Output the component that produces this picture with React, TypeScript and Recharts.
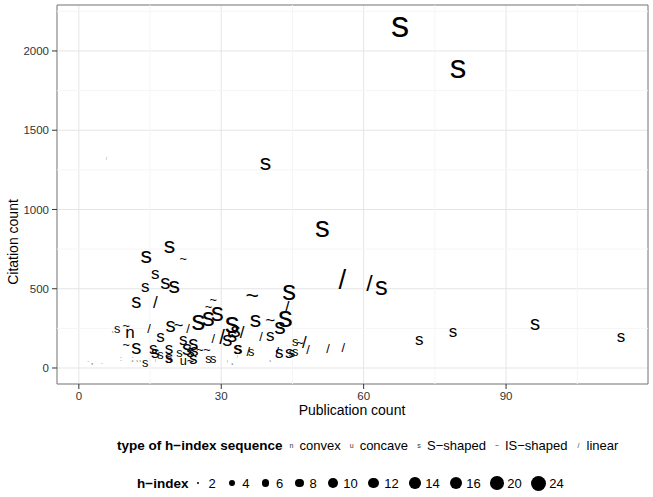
import React from "react";
import {
  ScatterChart,
  Scatter,
  XAxis,
  YAxis,
  CartesianGrid,
  ReferenceLine,
  ReferenceArea,
} from "recharts";

// Publication count, citation count, sequence type, h-index for each author
const pubCount = [
  67.7, 79.9, 5.8, 39.3, 51.3, 14.2, 19.1, 22.0, 16.1, 14.0, 18.2, 20.1, 12.1, 16.1, 28.3, 36.5, 44.3, 55.5, 61.2, 63.7,
  25.2, 27.3, 29.2, 27.3, 32.3, 33.0, 37.2, 40.3, 43.5, 42.4, 43.9, 7.1, 8.1, 10.0, 10.8, 14.8, 19.3, 21.0, 23.0, 17.2,
  22.0, 24.1, 28.3, 30.2, 31.3, 32.3, 34.4, 10.0, 12.1, 15.7, 16.1, 17.2, 19.0, 19.0, 19.0, 21.2, 22.8, 23.5, 24.3, 25.5,
  27.0, 22.0, 23.5, 24.1, 27.3, 28.3, 16.1, 8.9, 8.9, 11.3, 11.3, 12.3, 12.9, 14.0, 2.0, 2.8, 4.9, 31.3, 32.3, 33.4,
  35.7, 38.4, 40.3, 45.6, 46.6, 47.5, 48.3, 52.5, 55.7, 33.6, 36.3, 33.4, 41.8, 42.2, 44.3, 44.9, 45.6, 40.3, 71.7, 78.8,
  96.1, 114.2,
];
const citeCount = [
  2170, 1899, 1318, 1300, 890, 713, 776, 688, 593, 511, 543, 524, 423, 413, 429, 461, 492, 561, 536, 517,
  297, 322, 353, 385, 290, 240, 309, 297, 322, 265, 379, 227, 246, 271, 227, 252, 271, 271, 252, 196,
  177, 158, 183, 196, 183, 208, 221, 151, 132, 120, 95, 88, 126, 69, 63, 95, 126, 107, 110, 114,
  114, 50, 50, 63, 63, 63, 44, 63, 38, 63, 38, 38, 38, 32, 32, 19, 19, 32, 19, 126,
  101, 196, 208, 164, 158, 158, 114, 126, 132, 120, 101, 69, 101, 95, 95, 95, 107, 44, 177, 233,
  284, 196,
];
const seqType = [
  "s", "s", "/", "s", "s", "s", "s", "~", "s", "s", "s", "s", "s", "/", "~", "~", "s", "/", "/", "s",
  "s", "s", "s", "~", "s", "s", "s", "~", "s", "s", "/", "s", "s", "~", "n", "/", "s", "~", "/", "s",
  "s", "s", "/", "/", "s", "s", "/", "~", "s", "s", "s", "s", "s", "s", "s", "s", "s", "s", "s", "~",
  "~", "u", "~", "s", "s", "s", "/", "~", "~", "~", "u", "s", "s", "s", "~", "n", "~", "/", "u", "s",
  "/", "/", "s", "s", "~", "/", "/", "/", "/", "s", "s", "/", "/", "s", "s", "s", "s", "s", "s", "s",
  "s", "s",
];
const hIndex = [
  24, 20, 2, 10, 16, 10, 10, 4, 6, 6, 8, 10, 8, 6, 4, 10, 14, 14, 10, 12,
  14, 12, 12, 4, 16, 8, 10, 6, 16, 10, 6, 2, 4, 4, 6, 4, 8, 6, 4, 6,
  6, 8, 4, 8, 8, 8, 6, 4, 8, 6, 6, 4, 6, 6, 4, 4, 8, 6, 6, 4,
  4, 4, 4, 6, 4, 4, 2, 2, 2, 2, 2, 2, 2, 4, 2, 2, 2, 2, 2, 6,
  4, 4, 6, 4, 4, 6, 4, 4, 4, 6, 4, 2, 4, 6, 6, 4, 4, 2, 6, 6,
  8, 6,
];

const xTicks = [0, 30, 60, 90];
const yTicks = [0, 500, 1000, 1500, 2000];
const xMinor = [15, 45, 75, 105];
const yMinor = [250, 750, 1250, 1750, 2250];

const typeLegend = [
  { glyph: "n", label: "convex" },
  { glyph: "u", label: "concave" },
  { glyph: "s", label: "S\u2212shaped" },
  { glyph: "~", label: "IS\u2212shaped" },
  { glyph: "/", label: "linear" },
];
const hLegend = [2, 4, 6, 8, 10, 12, 14, 16, 20, 24];

const data = pubCount.map((x, i) => ({
  x,
  y: citeCount[i],
  t: seqType[i],
  h: hIndex[i],
}));

const FONT = '"Liberation Sans", Arial, Helvetica, sans-serif';

const diam = (h: number) => 1 + 13 * Math.sqrt(Math.max(0, h - 2) / 22);
const glyphSize = (h: number) => 2.6 * diam(h);

const GlyphShape = (props: any) => {
  const { cx, cy, payload } = props;
  if (cx == null || cy == null) return null;
  return (
    <text
      x={cx}
      y={cy}
      fontSize={glyphSize(payload.h)}
      fontFamily={FONT}
      textAnchor="middle"
      dominantBaseline="central"
      fill="#000"
    >
      {payload.t}
    </text>
  );
};

export default function App() {
  return (
    <div
      style={{
        position: "absolute",
        left: 0,
        top: 0,
        width: 653,
        height: 497,
        background: "#fff",
        fontFamily: FONT,
      }}
    >
      <ScatterChart
        width={653}
        height={497}
        margin={{ top: 5, right: 5, bottom: 83, left: 7 }}
      >
        <CartesianGrid stroke="#E5E5E5" strokeWidth={1} />
        {xMinor.map((v) => (
          <ReferenceLine key={"xm" + v} x={v} stroke="#F5F5F5" strokeWidth={1} />
        ))}
        {yMinor.map((v) => (
          <ReferenceLine key={"ym" + v} y={v} stroke="#F5F5F5" strokeWidth={1} />
        ))}
        <XAxis
          type="number"
          dataKey="x"
          domain={[-4.6, 119.9]}
          ticks={xTicks}
          allowDataOverflow
          axisLine={false}
          tickLine={{ stroke: "#333333" }}
          tickSize={5}
          tickMargin={3}
          height={30}
          tick={{ fill: "#333333", fontSize: 11.5, fontFamily: FONT }}
        />
        <YAxis
          type="number"
          dataKey="y"
          domain={[-101, 2290]}
          ticks={yTicks}
          allowDataOverflow
          axisLine={false}
          tickLine={{ stroke: "#333333" }}
          tickSize={5}
          tickMargin={3}
          width={50}
          tick={{ fill: "#333333", fontSize: 11.5, fontFamily: FONT }}
        />
        <ReferenceArea
          x1={-4.6}
          x2={119.9}
          y1={-101}
          y2={2290}
          fill="none"
          fillOpacity={0}
          stroke="#7F7F7F"
          strokeWidth={1}
        />
        <Scatter data={data} shape={GlyphShape} isAnimationActive={false} />
      </ScatterChart>

      <div
        style={{
          position: "absolute",
          left: 352,
          top: 402,
          transform: "translateX(-50%)",
          fontSize: 14,
          whiteSpace: "nowrap",
          color: "#000",
        }}
      >
        Publication count
      </div>
      <div
        style={{
          position: "absolute",
          left: 13,
          top: 242,
          transform: "translate(-50%, -50%) rotate(-90deg)",
          fontSize: 14,
          whiteSpace: "nowrap",
          color: "#000",
        }}
      >
        Citation count
      </div>

      <div
        style={{
          position: "absolute",
          left: 117,
          top: 437,
          display: "flex",
          alignItems: "center",
          whiteSpace: "nowrap",
          height: 16,
        }}
      >
        <span style={{ fontWeight: "bold", fontSize: 13.5, marginRight: 4 }}>
          type of h{"\u2212"}index sequence
        </span>
        {typeLegend.map((it) => (
          <span key={it.label} style={{ display: "flex", alignItems: "center" }}>
            <span
              style={{
                display: "inline-block",
                width: 10,
                textAlign: "center",
                fontSize: 7,
                color: "#333",
              }}
            >
              {it.glyph}
            </span>
            <span style={{ fontSize: 13, marginLeft: 3, marginRight: 6 }}>{it.label}</span>
          </span>
        ))}
      </div>

      <div
        style={{
          position: "absolute",
          left: 137,
          top: 475,
          display: "flex",
          alignItems: "center",
          whiteSpace: "nowrap",
          height: 16,
        }}
      >
        <span style={{ fontWeight: "bold", fontSize: 13.5, marginRight: 1 }}>
          h{"\u2212"}index
        </span>
        {hLegend.map((h) => (
          <span key={h} style={{ display: "flex", alignItems: "center" }}>
            <span
              style={{
                display: "inline-flex",
                width: Math.max(17, diam(h) + 4),
                justifyContent: "center",
                alignItems: "center",
              }}
            >
              <span
                style={{
                  display: "inline-block",
                  width: diam(h) + 1,
                  height: diam(h) + 1,
                  borderRadius: "50%",
                  background: "#000",
                }}
              />
            </span>
            <span style={{ fontSize: 13, marginLeft: 2, marginRight: 7.5 }}>{h}</span>
          </span>
        ))}
      </div>
    </div>
  );
}
